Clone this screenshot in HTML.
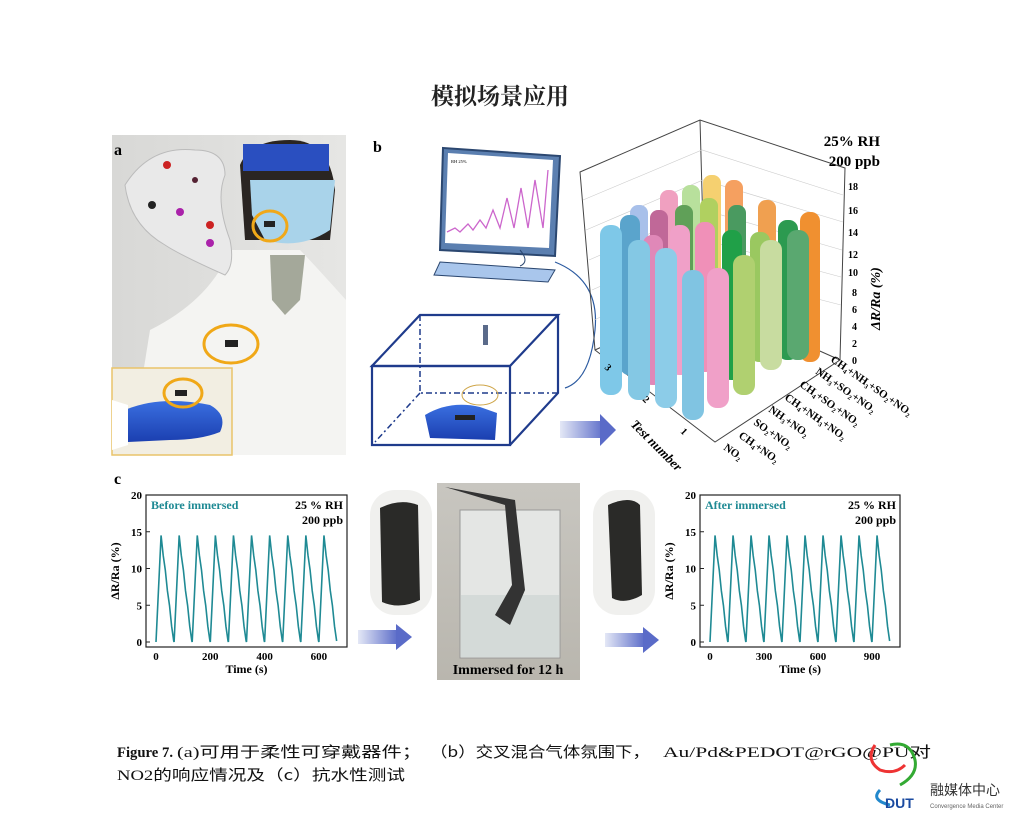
<!DOCTYPE html>
<html><head><meta charset="utf-8"><style>
html,body{margin:0;padding:0;background:#fff;}
body{width:1024px;height:818px;overflow:hidden;position:relative;font-family:"Liberation Serif","Noto Serif CJK SC",serif;}
svg{position:absolute;left:0;top:0;}
</style></head><body>
<svg width="1024" height="818" viewBox="0 0 1024 818" xmlns="http://www.w3.org/2000/svg">
<defs>
<linearGradient id="wall" x1="0" y1="0" x2="1" y2="0"><stop offset="0" stop-color="#d8d8d6"/><stop offset="1" stop-color="#e6e6e4"/></linearGradient>
<linearGradient id="glove" x1="0" y1="0" x2="0" y2="1"><stop offset="0" stop-color="#3a6fe0"/><stop offset="1" stop-color="#1b3fb0"/></linearGradient>
<linearGradient id="arr" x1="0" y1="0" x2="1" y2="0"><stop offset="0" stop-color="#e4e8f6"/><stop offset="1" stop-color="#5a6bc8"/></linearGradient>
<linearGradient id="beaker" x1="0" y1="0" x2="0" y2="1"><stop offset="0" stop-color="#c8c6c0"/><stop offset="1" stop-color="#b9b6ae"/></linearGradient>
</defs>
<text x="500" y="104" font-size="23" font-weight="bold" text-anchor="middle" font-family="'Noto Serif CJK SC',serif" fill="#222">模拟场景应用</text>

<!-- panel a -->
<rect x="112" y="135" width="234" height="320" fill="url(#wall)"/>
<path d="M230 250 Q210 300 150 330 L130 455 L346 455 L346 300 Q310 260 300 250 Z" fill="#f4f4f2"/>
<path d="M240 165 Q250 140 290 140 Q330 140 335 190 L330 240 L245 240 Z" fill="#2a2522"/>
<path d="M250 180 L335 180 L330 230 Q300 250 265 240 L252 215 Z" fill="#a9d3ea"/>
<path d="M270 255 L305 255 L300 300 L285 315 L272 300 Z" fill="#a4a89a"/>
<rect x="243" y="144" width="86" height="27" fill="#2a4fc0"/>
<path d="M125 185 Q150 145 195 150 Q225 150 225 175 Q215 200 230 240 Q235 265 225 275 Q180 255 165 245 Q130 225 125 185Z" fill="#e9e9e9" stroke="#bbb"/>
<circle cx="167" cy="165" r="4" fill="#c22"/><circle cx="180" cy="212" r="4" fill="#a2a"/><circle cx="210" cy="225" r="4" fill="#c22"/><circle cx="152" cy="205" r="4" fill="#222"/><circle cx="210" cy="243" r="4" fill="#a2a"/><circle cx="195" cy="180" r="3" fill="#523"/>
<ellipse cx="270" cy="226" rx="17" ry="15" fill="none" stroke="#f0a818" stroke-width="3"/>
<rect x="264" y="221" width="11" height="6" fill="#222"/>
<ellipse cx="231" cy="344" rx="27" ry="19" fill="none" stroke="#f0a818" stroke-width="3"/>
<rect x="225" y="340" width="13" height="7" fill="#222"/>
<rect x="112" y="368" width="120" height="87" fill="#f2eee2" stroke="#e9c46a" stroke-width="1.5"/>
<path d="M125 410 Q160 395 210 405 Q228 415 220 432 Q200 440 170 440 L128 442 Z" fill="url(#glove)"/>
<path d="M112 400 L128 405 L128 445 L112 450Z" fill="#fff"/>
<ellipse cx="183" cy="393" rx="19" ry="14" fill="none" stroke="#f0a818" stroke-width="3"/>
<rect x="175" y="390" width="12" height="6" fill="#222"/>
<text x="114" y="155" font-size="16" font-weight="bold">a</text>

<!-- panel b -->
<text x="373" y="152" font-size="16" font-weight="bold">b</text>
<path d="M443 148 L560 156 L555 256 L440 250 Z" fill="#5b7fb0" stroke="#2b4770" stroke-width="2"/>
<path d="M448 153 L553 160 L549 248 L445 243 Z" fill="#fff"/>
<polyline points="447,232 455,228 460,232 468,224 473,230 480,220 486,228 493,210 500,228 507,198 514,228 521,188 528,228 535,180 543,228 548,170" fill="none" stroke="#cc66cc" stroke-width="1.3"/>
<text x="451" y="163" font-size="4.5">RH 25%</text>
<path d="M440 262 L555 270 L548 282 L434 275Z" fill="#a9c6ec" stroke="#2b4770"/>
<path d="M520 250 Q530 262 520 266" fill="none" stroke="#2b4770"/>
<path d="M555 262 Q600 280 595 330 Q590 380 565 388" fill="none" stroke="#2b5aa0" stroke-width="1.2"/>
<g fill="none" stroke="#1f3b8c" stroke-width="2.2">
<path d="M372 366 L420 315 L558 315 L510 366 Z"/>
<path d="M372 366 L510 366 L510 445 L372 445 Z"/>
<path d="M558 315 L558 393 L510 445"/>
</g>
<g fill="none" stroke="#1f3b8c" stroke-width="1.5" stroke-dasharray="6,3,2,3">
<path d="M420 315 L420 393 L558 393"/><path d="M420 393 L375 442"/>
</g>
<rect x="483" y="325" width="5" height="20" fill="#5a6a8a"/>
<path d="M425 415 Q450 400 480 407 L497 413 L495 440 L430 438 Z" fill="url(#glove)"/>
<rect x="455" y="415" width="20" height="5" fill="#222"/>
<ellipse cx="480" cy="395" rx="18" ry="10" fill="none" stroke="#cfa64a"/>
<rect x="560" y="421" width="45" height="17" fill="url(#arr)"/>
<path d="M600 414 L616 430 L600 446Z" fill="#5a6bc8"/>

<!-- 3D chart -->
<g fill="none" stroke="#444" stroke-width="1">
<path d="M580 172 L700 120 L845 168 L840 360 L715 442 L595 350 Z"/>
<path d="M700 120 L705 300 L595 350 M705 300 L840 360"/>
</g>
<g stroke="#ccc" stroke-width="0.6" fill="none">
<path d="M583 200 L702 150 L843 195 M586 230 L703 180 L843 222 M589 260 L704 210 L842 250 M592 290 L704 240 L841 277 M594 320 L705 270 L841 305"/>
</g>
<g>
<rect x="630" y="205" width="18" height="150" rx="8" fill="#a8c0ea"/>
<rect x="660" y="190" width="18" height="150" rx="8" fill="#f0a0c0"/>
<rect x="682" y="185" width="18" height="150" rx="8" fill="#b8e09c"/>
<rect x="703" y="175" width="18" height="150" rx="8" fill="#f5d070"/>
<rect x="725" y="180" width="18" height="150" rx="8" fill="#f5a060"/>
<rect x="650" y="210" width="18" height="150" rx="8" fill="#c06898"/>
<rect x="675" y="205" width="18" height="150" rx="8" fill="#60a058"/>
<rect x="700" y="198" width="18" height="150" rx="8" fill="#b0d060"/>
<rect x="728" y="205" width="18" height="150" rx="8" fill="#4a9a60"/>
<rect x="758" y="200" width="18" height="150" rx="8" fill="#f0a050"/>
<rect x="620" y="215" width="20" height="160" rx="9" fill="#5aa4cc"/>
<rect x="643" y="235" width="20" height="150" rx="9" fill="#e088b8"/>
<rect x="670" y="225" width="20" height="150" rx="9" fill="#f0a0c8"/>
<rect x="695" y="222" width="20" height="150" rx="9" fill="#f090b8"/>
<rect x="722" y="230" width="20" height="150" rx="9" fill="#20a048"/>
<rect x="750" y="232" width="20" height="130" rx="9" fill="#9ac860"/>
<rect x="778" y="220" width="20" height="140" rx="9" fill="#2c9a50"/>
<rect x="800" y="212" width="20" height="150" rx="9" fill="#f09030"/>
<rect x="600" y="225" width="22" height="170" rx="10" fill="#7ec8e8"/>
<rect x="628" y="240" width="22" height="160" rx="10" fill="#84c8e4"/>
<rect x="655" y="248" width="22" height="160" rx="10" fill="#8ccce8"/>
<rect x="682" y="270" width="22" height="150" rx="10" fill="#80c4e2"/>
<rect x="707" y="268" width="22" height="140" rx="10" fill="#f0a0c8"/>
<rect x="733" y="255" width="22" height="140" rx="10" fill="#b0d070"/>
<rect x="760" y="240" width="22" height="130" rx="10" fill="#c8dca0"/>
<rect x="787" y="230" width="22" height="130" rx="10" fill="#5aa870"/>
</g>
<text x="880" y="146" font-size="15" font-weight="bold" text-anchor="end">25% RH</text>
<text x="880" y="166" font-size="15" font-weight="bold" text-anchor="end">200 ppb</text>
<g font-size="10" font-weight="bold">
<text x="848" y="190">18</text><text x="848" y="214">16</text><text x="848" y="236">14</text><text x="848" y="258">12</text><text x="848" y="276">10</text><text x="852" y="296">8</text><text x="852" y="313">6</text><text x="852" y="330">4</text><text x="852" y="347">2</text><text x="852" y="364">0</text>
</g>
<text transform="translate(880,330) rotate(-90)" font-size="14" font-weight="bold" font-style="italic">ΔR/Ra (%)</text>
<g font-size="11" font-weight="bold">
<text transform="translate(723,449) rotate(35)">NO₂</text>
<text transform="translate(738,437) rotate(35)">CH₄+NO₂</text>
<text transform="translate(753,424) rotate(35)">SO₂+NO₂</text>
<text transform="translate(768,411) rotate(35)">NH₃+NO₂</text>
<text transform="translate(784,399) rotate(35)">CH₄+NH₃+NO₂</text>
<text transform="translate(799,386) rotate(35)">CH₄+SO₂+NO₂</text>
<text transform="translate(815,373) rotate(35)">NH₃+SO₂+NO₂</text>
<text transform="translate(830,361) rotate(35)">CH₄+NH₃+SO₂+NO₂</text>
</g>
<text transform="translate(630,425) rotate(45)" font-size="13" font-weight="bold" font-style="italic">Test number</text>
<g font-size="10" font-weight="bold"><text transform="translate(680,432) rotate(45)">1</text><text transform="translate(642,400) rotate(45)">2</text><text transform="translate(604,368) rotate(45)">3</text></g>

<!-- panel c -->
<text x="114" y="484" font-size="16" font-weight="bold">c</text>
<g id="c1"></g>
<rect x="370" y="490" width="62" height="125" rx="25" fill="#f0f0ee"/>
<path d="M380 508 Q400 498 418 505 L420 600 Q400 610 382 602 Z" fill="#2a2a28"/>
<rect x="358" y="630" width="40" height="14" fill="url(#arr)"/><path d="M396 624 L412 637 L396 650Z" fill="#5a6bc8"/>
<rect x="437" y="483" width="143" height="197" fill="url(#beaker)"/>
<rect x="460" y="510" width="100" height="148" fill="#e4e6e4" stroke="#999"/>
<rect x="461" y="595" width="98" height="62" fill="#d4dad8"/>
<path d="M445 487 L515 500 L525 590 L510 625 L495 615 L512 585 L505 505 Z" fill="#333"/>
<text x="508" y="674" font-size="14" font-weight="bold" text-anchor="middle">Immersed for 12 h</text>
<rect x="593" y="490" width="62" height="125" rx="25" fill="#f0f0ee"/>
<path d="M608 505 Q630 495 640 505 L642 595 Q625 605 612 598 Z" fill="#2a2a28"/>
<rect x="605" y="633" width="40" height="14" fill="url(#arr)"/><path d="M643 627 L659 640 L643 653Z" fill="#5a6bc8"/>

<!-- caption -->
<g font-size="15" fill="#111">
<text x="117" y="757" font-weight="bold" textLength="56" lengthAdjust="spacingAndGlyphs">Figure 7.</text>
<text x="177" y="757" textLength="245" lengthAdjust="spacingAndGlyphs">(a)<tspan font-family="'Noto Sans CJK SC',sans-serif">可用于柔性可穿戴器件；</tspan></text>
<text x="430" y="757" font-family="'Noto Sans CJK SC',sans-serif" textLength="220" lengthAdjust="spacingAndGlyphs">（b）交叉混合气体氛围下，</text>
<text x="663" y="757" textLength="268" lengthAdjust="spacingAndGlyphs">Au/Pd&amp;PEDOT@rGO@PU<tspan font-family="'Noto Sans CJK SC',sans-serif">对</tspan></text>
<text x="117" y="780" textLength="288" lengthAdjust="spacingAndGlyphs">NO2<tspan font-family="'Noto Sans CJK SC',sans-serif">的响应情况及（c）抗水性测试</tspan></text>
</g>
<!-- logo -->
<path d="M875 745 Q865 760 880 770 Q895 775 905 765" fill="none" stroke="#e33" stroke-width="3"/>
<path d="M890 745 Q910 740 915 760 Q918 775 900 785" fill="none" stroke="#3a3" stroke-width="3"/>
<path d="M880 790 Q870 800 890 805" fill="none" stroke="#28c" stroke-width="3"/>
<text x="885" y="808" font-size="14" font-weight="bold" fill="#1a4aa0" font-family="'Liberation Sans',sans-serif">DUT</text>
<text x="930" y="795" font-size="14" fill="#333" font-family="'Noto Sans CJK SC',sans-serif">融媒体中心</text>
<text x="930" y="808" font-size="6" fill="#666" font-family="'Liberation Sans',sans-serif">Convergence Media Center</text>
</svg>
<script>
function chart(x0,x1,yTop,yBot,title,ticks,tickVals){
 var s='';
 s+='<rect x="'+x0+'" y="'+yTop+'" width="'+(x1-x0)+'" height="'+(yBot-yTop)+'" fill="none" stroke="#222" stroke-width="1.2"/>';
 var yz=yBot-5, ys=(yz-yTop)/20;
 [0,5,10,15,20].forEach(function(v){var y=yz-v*ys;s+='<line x1="'+x0+'" x2="'+(x0+4)+'" y1="'+y+'" y2="'+y+'" stroke="#222"/><text x="'+(x0-4)+'" y="'+(y+4)+'" font-size="11" font-weight="bold" text-anchor="end">'+v+'</text>';});
 var pts=[],n=10,w=(x1-x0-20)/n;
 for(var i=0;i<n;i++){var bx=x0+10+i*w;pts.push(bx+','+yz);pts.push((bx+w*0.28)+','+(yz-14.5*ys));
  for(var k=1;k<=6;k++){var t=k/6;pts.push((bx+w*0.28+t*w*0.7)+','+(yz-14.5*ys*(1-t)+(k%2?2:-1)));}}
 s+='<polyline points="'+pts.join(' ')+'" fill="none" stroke="#1f8a94" stroke-width="1.6"/>';
 ticks.forEach(function(v,j){var x=x0+10+(x1-x0-20)*j/(ticks.length-1)*tickVals;s+='<text x="'+x+'" y="'+(yBot+13)+'" font-size="11" font-weight="bold" text-anchor="middle">'+v+'</text>';});
 s+='<text x="'+(x0+5)+'" y="'+(yTop+14)+'" font-size="12" font-weight="bold" fill="#1f8a94">'+title+'</text>';
 s+='<text x="'+(x1-4)+'" y="'+(yTop+14)+'" font-size="12" font-weight="bold" text-anchor="end">25 % RH</text>';
 s+='<text x="'+(x1-4)+'" y="'+(yTop+29)+'" font-size="12" font-weight="bold" text-anchor="end">200 ppb</text>';
 s+='<text x="'+((x0+x1)/2)+'" y="'+(yBot+26)+'" font-size="12" font-weight="bold" text-anchor="middle">Time (s)</text>';
 s+='<text transform="translate('+(x0-27)+','+((yTop+yBot)/2)+') rotate(-90)" font-size="12" font-weight="bold" text-anchor="middle">ΔR/Ra (%)</text>';
 return s;
}
var g=document.getElementById('c1');
g.innerHTML=chart(146,347,495,647,'Before immersed',[0,200,400,600],0.9)+chart(700,900,495,647,'After immersed',[0,300,600,900],0.9);
</script>
</body></html>
